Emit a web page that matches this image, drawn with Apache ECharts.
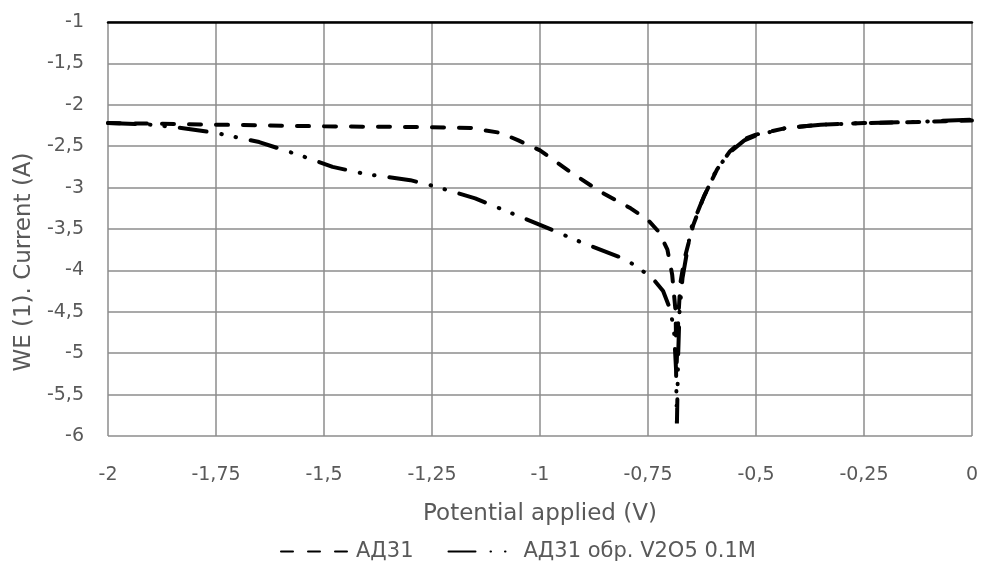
<!DOCTYPE html>
<html>
<head>
<meta charset="utf-8">
<script src="https://cdn.jsdelivr.net/npm/echarts@6/dist/echarts.min.js"></script>
<style>
  html, body { margin: 0; padding: 0; background: #ffffff; }
  #chart { width: 981px; height: 574px; }
</style>
</head>
<body>
<div id="chart"></div>
<script>
// Series names
const seriesNames = ['АД31', 'АД31 обр. V2O5 0.1M'];

// АД31: potential (V) and current
const adPotential = [-2, -1.75, -1.5, -1.25, -1.16, -1.09, -1.05, -1, -0.93, -0.86, -0.79, -0.75, -0.724, -0.705, -0.694,
  -0.686, -0.684, -0.68, -0.675, -0.665, -0.645, -0.62, -0.59, -0.56, -0.53, -0.5, -0.43, -0.35, -0.25, -0.15, 0];
const adCurrent = [-2.22, -2.24, -2.26, -2.27, -2.28, -2.34, -2.43, -2.55, -2.81, -3.05, -3.25, -3.39, -3.54, -3.75, -4.05,
  -4.5, -5.2, -4.6, -4.15, -3.85, -3.45, -3.1, -2.78, -2.56, -2.42, -2.36, -2.28, -2.24, -2.22, -2.21, -2.19];

// АД31 обр. V2O5 0.1M: potential (V) and current
const vPotential = [-2, -1.9, -1.83, -1.75, -1.65, -1.55, -1.48, -1.4, -1.3, -1.24, -1.15, -1.07, -1, -0.9, -0.8, -0.74,
  -0.715, -0.7, -0.69, -0.685, -0.683, -0.68, -0.677, -0.67, -0.65, -0.624, -0.592, -0.562, -0.527, -0.5, -0.43, -0.35,
  -0.25, -0.15, 0];
const vCurrent = [-2.22, -2.24, -2.28, -2.34, -2.45, -2.62, -2.75, -2.84, -2.91, -2.99, -3.13, -3.3, -3.45, -3.67, -3.87, -4.09,
  -4.25, -4.45, -4.7, -5.2, -5.85, -5.0, -4.5, -4.09, -3.49, -3.15, -2.79, -2.58, -2.43, -2.37, -2.28, -2.24,
  -2.22, -2.21, -2.18];

// Axis text
const xAxisTitle = 'Potential applied (V)';
const yAxisTitle = 'WE (1). Current (A)';

const pairs = (xs, ys) => xs.map((x, i) => [x, ys[i]]);
const commaNum = v => String(+v.toFixed(2)).replace('.', ',');

const FONT = 'DejaVu Sans';
const TEXT = '#595959';
const GRID = '#8c8c8c';

const chart = echarts.init(document.getElementById('chart'), null, { renderer: 'canvas' });

chart.setOption({
  animation: false,
  backgroundColor: '#ffffff',
  grid: { left: 108, right: 8, top: 22, bottom: 138 },
  legend: {
    left: 275,
    top: 536,
    itemGap: 34,
    itemHeight: 8,
    itemStyle: { opacity: 0 },
    textStyle: { fontFamily: FONT, fontSize: 21, color: TEXT, padding: [0, 0, 0, 4] },
    data: [
      { name: seriesNames[0], itemWidth: 72 },
      { name: seriesNames[1] }
    ],
    itemWidth: 66
  },
  xAxis: [{
    type: 'value',
    min: -2, max: 0, interval: 0.25,
    position: 'bottom',
    axisLine: { show: false },
    axisTick: { show: false },
    splitLine: { show: true, lineStyle: { color: GRID, width: 1.5 } },
    axisLabel: { formatter: commaNum, fontFamily: FONT, fontSize: 19, color: TEXT, margin: 30 },
    name: xAxisTitle,
    nameLocation: 'middle',
    nameGap: 67,
    nameTextStyle: { fontFamily: FONT, fontSize: 23, color: TEXT }
  }, {
    // top border line of the plot area
    type: 'value',
    min: -2, max: 0,
    position: 'top',
    axisLine: { show: true, lineStyle: { color: '#000000', width: 2.5 } },
    axisTick: { show: false },
    axisLabel: { show: false },
    splitLine: { show: false }
  }],
  yAxis: {
    type: 'value',
    min: -6, max: -1, interval: 0.5,
    axisLine: { show: false },
    axisTick: { show: false },
    splitLine: { show: true, lineStyle: { color: GRID, width: 1.5 } },
    axisLabel: { formatter: commaNum, fontFamily: FONT, fontSize: 19, color: TEXT, margin: 24 },
    name: yAxisTitle,
    nameLocation: 'middle',
    nameRotate: 90,
    nameGap: 67,
    nameTextStyle: { fontFamily: FONT, fontSize: 23, color: TEXT, padding: [0, 66, 0, 0] }
  },
  series: [{
    name: seriesNames[0],
    type: 'line',
    xAxisIndex: 0,
    data: pairs(adPotential, adCurrent),
    symbol: 'none',
    lineStyle: { color: '#000000', width: 4, type: [12, 15], cap: 'round' },
    itemStyle: { color: '#000000' },
    z: 3
  }, {
    name: seriesNames[1],
    type: 'line',
    xAxisIndex: 0,
    data: pairs(vPotential, vCurrent),
    symbol: 'none',
    lineStyle: { color: '#000000', width: 4, type: [27, 15, 0.5, 14, 0.5, 15], cap: 'round' },
    itemStyle: { color: '#000000' },
    z: 4
  }]
});
</script>
</body>
</html>
